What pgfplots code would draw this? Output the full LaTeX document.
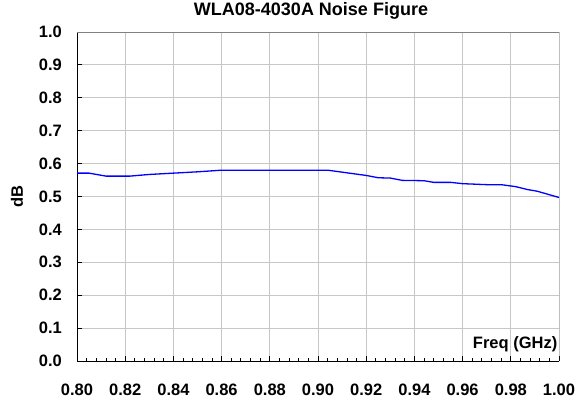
\documentclass[border=0pt]{standalone}
\usepackage{fontspec}
\setmainfont{Liberation Sans}
\usepackage{pgfplots}
\pgfplotsset{compat=1.18}

\begin{document}
\begin{tikzpicture}[x=1bp,y=1bp]
\path[use as bounding box] (0,0) rectangle (577,403);
\begin{axis}[
    at={(77bp,42bp)}, anchor=south west,
    scale only axis, width=482bp, height=329bp,
    xmin=0.8, xmax=1.0, ymin=0, ymax=1,
    xtick={0.80,0.82,0.84,0.86,0.88,0.90,0.92,0.94,0.96,0.98,1.00},
    ytick={0,0.1,0.2,0.3,0.4,0.5,0.6,0.7,0.8,0.9,1.0},
    minor x tick num=4,
    axis x line*=bottom, axis y line*=left,
    axis line style={black, line width=0.9bp, -},
    xtick pos=lower, ytick pos=left,
    tick align=inside,
    major tick length=5bp, minor tick length=3bp,
    tick style={black, line width=0.8bp},
    grid=major,
    major grid style={black!22, line width=0.8bp},
    /pgf/number format/assume math mode=true,
    xticklabel style={font=\fontsize{16.5bp}{19bp}\selectfont\bfseries,
        /pgf/number format/fixed, /pgf/number format/fixed zerofill,
        /pgf/number format/precision=2,
        anchor=base, inner sep=0pt, yshift=-34bp},
    yticklabel style={font=\fontsize{16.5bp}{19bp}\selectfont\bfseries,
        /pgf/number format/fixed, /pgf/number format/fixed zerofill,
        /pgf/number format/precision=1,
        anchor=east, inner sep=0pt, xshift=-15bp},
    title={WLA08-4030A Noise Figure},
    title style={font=\fontsize{18bp}{21bp}\selectfont\bfseries,
        at={(axis description cs:0.5,1)}, anchor=base, inner sep=0pt,
        yshift=11bp, xshift=-7bp},
    xlabel={Freq (GHz)},
    xlabel style={font=\fontsize{16.5bp}{19bp}\selectfont\bfseries,
        at={(axis description cs:1,0)}, anchor=base east, inner sep=0pt,
        yshift=13bp, xshift=-1.5bp},
    ylabel={dB},
    ylabel style={font=\fontsize{16.5bp}{19bp}\selectfont\bfseries,
        at={(axis description cs:0,0.5)}, anchor=center,
        inner sep=0pt, yshift=60bp},
]
\draw[black!50, line width=0.9bp] (rel axis cs:0,1) -- (rel axis cs:1,1) -- (rel axis cs:1,0);
\addplot[blue, line width=1.3bp] coordinates {
    (0.800,0.571) (0.805,0.571) (0.812,0.562) (0.822,0.562) (0.830,0.567)
    (0.840,0.571) (0.850,0.575) (0.860,0.580) (0.870,0.580) (0.880,0.580)
    (0.890,0.580) (0.904,0.580) (0.910,0.574) (0.920,0.564) (0.925,0.557)
    (0.930,0.556) (0.935,0.549) (0.944,0.548) (0.948,0.543) (0.955,0.543)
    (0.960,0.539) (0.970,0.536) (0.976,0.536) (0.982,0.530) (0.987,0.521)
    (0.991,0.516) (1.000,0.497)
};
\end{axis}
\end{tikzpicture}
\end{document}
